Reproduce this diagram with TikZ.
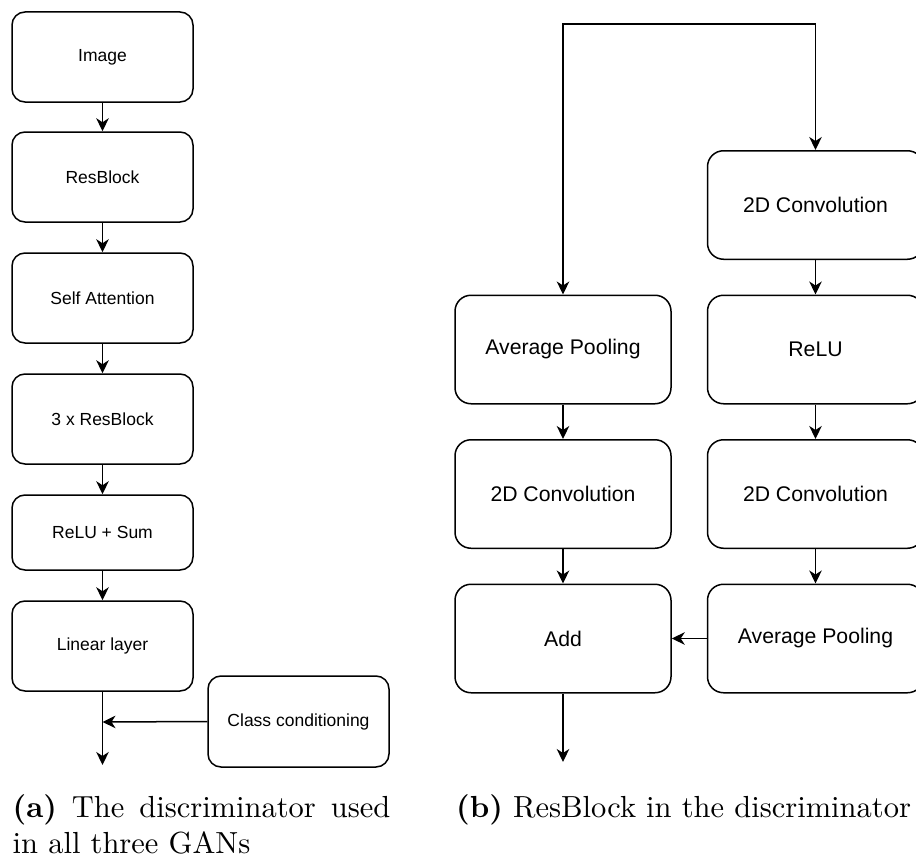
\documentclass[tikz,border=0pt]{standalone}
\usepackage{fontspec}
\newfontfamily\boxfont{Liberation Sans}
\usetikzlibrary{arrows.meta}
\tikzset{
  blk/.style={draw=black, line width=1.5pt, rectangle, inner sep=0pt, fill=white},
  lbox/.style={blk, minimum width=181pt, minimum height=90pt, rounded corners=13pt, font=\boxfont\fontsize{17.5}{21}\selectfont},
  rbox/.style={blk, minimum width=216pt, minimum height=108.5pt, rounded corners=16pt, font=\boxfont\fontsize{21.2}{25}\selectfont},
  arr/.style={line width=1.5pt, -{Stealth[length=13pt, width=12.5pt, inset=4pt]}},
  capt/.style={inner sep=0pt, font=\normalsize}
}
\begin{document}
\begin{tikzpicture}[x=1pt, y=-1pt]
\useasboundingbox (0,0) rectangle (916,859);
% ---- (a) discriminator ----
\node[lbox] (img) at (102.5,57) {Image};
\node[lbox] (rb) at (102.5,177) {ResBlock};
\node[lbox] (sa) at (102.5,298) {Self Attention};
\node[lbox] (rb3) at (102.5,419) {3 x ResBlock};
\node[lbox, minimum height=75pt] (rs) at (102.5,532.5) {ReLU + Sum};
\node[lbox] (lin) at (102.5,646) {Linear layer};
\node[lbox, minimum height=91pt] (cc) at (298.5,721.5) {Class conditioning};
\coordinate (outa) at (102.5,765);
\coordinate (join) at (102.5,722);
\draw[arr] (img) -- (rb);
\draw[arr] (rb) -- (sa);
\draw[arr] (sa) -- (rb3);
\draw[arr] (rb3) -- (rs);
\draw[arr] (rs) -- (lin);
\draw[arr] (lin) -- (outa);
\draw[arr] (cc.west) -- (join);
% ---- (b) ResBlock ----
\node[rbox] (c1) at (815.5,205) {2D Convolution};
\node[rbox] (relu) at (815.5,349.5) {ReLU};
\node[rbox] (c2) at (815.5,494) {2D Convolution};
\node[rbox] (ap2) at (815.5,638.5) {Average Pooling};
\node[rbox] (ap1) at (563,349.5) {Average Pooling};
\node[rbox] (c3) at (563,494) {2D Convolution};
\node[rbox] (add) at (563,638.5) {Add};
\coordinate (inR) at (815.5,24);
\coordinate (outb) at (563,762);
\draw[arr] (inR) -- (c1);
\draw[arr] (inR) -| (ap1.north);
\draw[arr] (c1) -- (relu);
\draw[arr] (relu) -- (c2);
\draw[arr] (c2) -- (ap2);
\draw[arr] (ap2) -- (add);
\draw[arr] (ap1) -- (c3);
\draw[arr] (c3) -- (add);
\draw[arr] (add) -- (outb);
% ---- captions ----
\node[capt, anchor=base west] (capa) at (12.5,817)
  {\scalebox{3.05}{\parbox[t]{123.8pt}{\textbf{(a)} The discriminator used in all three GANs}}};
\node[capt, anchor=base west] (capb) at (456,817)
  {\scalebox{3.05}{\textbf{(b)} ResBlock in the discriminator}};
\end{tikzpicture}
\end{document}
